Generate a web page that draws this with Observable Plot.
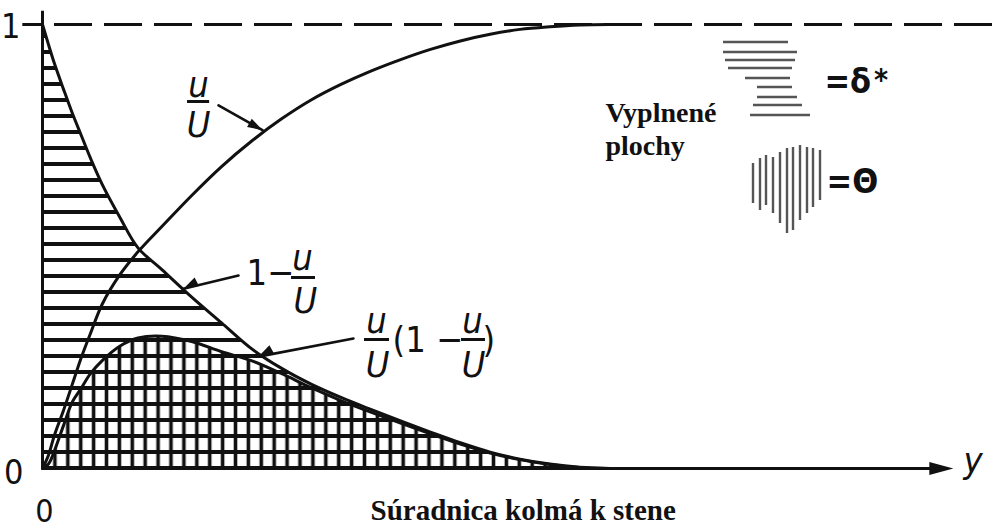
<!DOCTYPE html>
<html>
<head>
<meta charset="utf-8">
<script src="https://cdn.jsdelivr.net/npm/d3@7"></script>
<script src="https://cdn.jsdelivr.net/npm/@observablehq/plot@0.6"></script>
<style>
  html, body { margin: 0; padding: 0; background: #fff; }
  #chart { position: relative; width: 997px; height: 529px; }
  #chart svg { display: block; }
</style>
</head>
<body>
<div id="chart"></div>
<script>
// Boundary-layer profiles against the wall-normal coordinate (arbitrary units)
const distance        = [0, 0.1, 0.2, 0.35, 0.5, 0.65, 0.8, 1.0, 1.3, 1.6, 2.0, 2.5, 3.0, 3.5, 4.0, 4.5, 5.0, 5.5, 6.0, 6.5, 7.0, 7.5, 8.0, 8.5, 9.0, 9.5];
// u/U
const velocityRatio   = [0, 0.03, 0.075, 0.13, 0.19, 0.25, 0.303, 0.37, 0.437, 0.488, 0.545, 0.615, 0.68, 0.737, 0.787, 0.83, 0.865, 0.895, 0.921, 0.944, 0.963, 0.978, 0.989, 0.995, 0.999, 1.0];
// 1 − u/U  (displacement thickness δ*)
const velocityDeficit = [1.0, 0.955, 0.912, 0.855, 0.8, 0.75, 0.7, 0.64, 0.565, 0.497, 0.448, 0.386, 0.328, 0.27, 0.226, 0.19, 0.16, 0.133, 0.107, 0.082, 0.058, 0.037, 0.021, 0.01, 0.003, 0.0];
// u/U (1 − u/U)  (momentum thickness Θ)
const momentumDeficit = [0, 0.01, 0.04, 0.096, 0.15, 0.181, 0.213, 0.243, 0.276, 0.294, 0.298, 0.286, 0.263, 0.243, 0.214, 0.182, 0.153, 0.127, 0.102, 0.078, 0.055, 0.035, 0.02, 0.009, 0.002, 0.0];

const yTickLabels = ["0", "1"];
const xOriginLabel = "0";
const xAxisName = "y";
const xTitle = "Súradnica kolmá k stene";
const keyTitle = ["Vyplnené", "plochy"];

const profile = distance.map((d, i) => ({
  d,
  ratio: velocityRatio[i],
  deficit: velocityDeficit[i],
  momentum: momentumDeficit[i]
}));

const W = 997, H = 529;
const margins = {marginTop: 24, marginBottom: 61, marginLeft: 42, marginRight: 0};
const xDomain = [0, 16], yDomain = [0, 1];
const ink = "#111";
const mathFont = "'Liberation Sans Narrow', 'DejaVu Sans Condensed', 'Liberation Sans', sans-serif";
const serifFont = "'Liberation Serif', 'DejaVu Serif', serif";

// Curve labels written as stacked fractions
const centredLabels = [
  {x: 2.614, y: 0.8356, text: "u"},
  {x: 2.614, y: 0.7455, text: "U"},
  {x: 4.356, y: 0.446,  text: "u"},
  {x: 4.406, y: 0.3491, text: "U"},
  {x: 5.596, y: 0.3063, text: "u"},
  {x: 5.613, y: 0.205,  text: "U"},
  {x: 7.204, y: 0.3063, text: "u"},
  {x: 7.221, y: 0.205,  text: "U"}
];
const leadingLabels = [
  {x: 3.418, y: 0.4122, text: "1−"},
  {x: 5.864, y: 0.2613, text: "(1 −"},
  {x: 7.372, y: 0.2613, text: ")"}
];
const fractionBars = [
  {y: 0.8266, x1: 2.43,  x2: 2.80},
  {y: 0.4302, x1: 4.172, x2: 4.574},
  {y: 0.2905, x1: 5.395, x2: 5.814},
  {y: 0.2905, x1: 7.02,  x2: 7.422}
];
const pointers = [
  {x1: 2.949, y1: 0.8176, x2: 3.686, y2: 0.762, bend: 0},
  {x1: 3.284, y1: 0.4347, x2: 2.362, y2: 0.405, bend: -14},
  {x1: 5.21,  y1: 0.2928, x2: 3.62,  y2: 0.252, bend: -18}
];

// Screen scales, used to turn each pointer's end tangent into a rotation
const frame = Plot.plot({width: W, height: H, ...margins, x: {domain: xDomain}, y: {domain: yDomain}, marks: []});
const sx = frame.scale("x"), sy = frame.scale("y");
const tipAngle = (d) =>
  Math.atan2(sy.apply(d.y2) - sy.apply(d.y1), sx.apply(d.x2) - sx.apply(d.x1)) * 180 / Math.PI + d.bend;

// Filled arrowheads, tip at the anchor point, pointing along +x before rotation
const headShape = (len, half) => ({
  draw(context) {
    context.moveTo(0, 0);
    context.lineTo(-len, -half);
    context.lineTo(-len, half);
    context.closePath();
  }
});

const mathText = {fontFamily: mathFont, fontSize: 36, fontStyle: "italic", fill: ink, lineAnchor: "bottom"};
const uprightText = {fontFamily: mathFont, fill: ink, lineAnchor: "bottom"};

const chart = Plot.plot({
  width: W,
  height: H,
  ...margins,
  x: {domain: xDomain, axis: null},
  y: {domain: yDomain, axis: null},
  style: {background: "#fff", overflow: "visible"},
  marks: [
    // δ*: horizontal hatching under 1 − u/U
    Plot.areaY(profile, {x: "d", y: "deficit", fill: "url(#hatch-h)", curve: "catmull-rom"}),
    // Θ: vertical hatching under u/U (1 − u/U), crossing into a grid
    Plot.areaY(profile, {x: "d", y: "momentum", fill: "url(#hatch-v)", curve: "catmull-rom"}),

    // free-stream level
    Plot.ruleY([1], {x1: 0, x2: 16, stroke: ink, strokeWidth: 3, strokeDasharray: "38,12", strokeDashoffset: -12}),
    Plot.ruleY([1], {x1: -0.33, x2: 0, stroke: ink, strokeWidth: 3}),

    // axes
    Plot.ruleX([0], {y1: 0, y2: 1.03, stroke: ink, strokeWidth: 3}),
    Plot.ruleY([0], {x1: 0, x2: 15.0, stroke: ink, strokeWidth: 3}),
    Plot.dot([15.26], {x: d => d, y: 0, symbol: headShape(24, 6.5), fill: ink, stroke: "none"}),

    // profiles
    Plot.line(profile, {x: "d", y: "ratio", stroke: ink, strokeWidth: 3, curve: "catmull-rom"}),
    Plot.line(profile, {x: "d", y: "deficit", stroke: ink, strokeWidth: 3, curve: "catmull-rom"}),
    Plot.line(profile, {x: "d", y: "momentum", stroke: ink, strokeWidth: 3, curve: "catmull-rom"}),

    // curve labels and pointers
    Plot.text(centredLabels, {x: "x", y: "y", text: "text", textAnchor: "middle", ...mathText}),
    Plot.text(leadingLabels, {x: "x", y: "y", text: "text", textAnchor: "start", ...mathText, fontStyle: "normal"}),
    Plot.ruleY(fractionBars, {y: "y", x1: "x1", x2: "x2", stroke: ink, strokeWidth: 3}),
    Plot.arrow(pointers, {x1: "x1", y1: "y1", x2: "x2", y2: "y2", bend: d => d.bend, stroke: ink, strokeWidth: 2.6, headLength: 0}),
    Plot.dot(pointers, {x: "x2", y: "y2", rotate: tipAngle, symbol: headShape(15, 4.8), fill: ink, stroke: "none"}),

    // tick labels
    Plot.text([yTickLabels[1]], {x: 0, y: 1, text: d => d, textAnchor: "end", dx: -22, dy: 13, fontSize: 34, ...uprightText}),
    Plot.text([yTickLabels[0]], {x: 0, y: 0, text: d => d, textAnchor: "end", dx: -19, dy: 15, fontSize: 34, ...uprightText}),
    Plot.text([xOriginLabel], {x: 0, y: 0, text: d => d, textAnchor: "middle", dx: 2, dy: 53, fontSize: 32, ...uprightText}),
    Plot.text([xAxisName], {x: 15.43, y: 0, text: d => d, textAnchor: "start", dy: 4, ...mathText}),
    Plot.text([xTitle], {frameAnchor: "bottom-left", text: d => d, dx: 328, dy: 51, textAnchor: "start", lineAnchor: "bottom", fontFamily: serifFont, fontWeight: "bold", fontSize: 29, fill: ink}),

    // key
    Plot.text([keyTitle[0]], {x: 9.432, y: 0.7793, text: d => d, textAnchor: "start", lineAnchor: "bottom", fontFamily: serifFont, fontWeight: "bold", fontSize: 28, fill: ink}),
    Plot.text([keyTitle[1]], {x: 9.432, y: 0.705, text: d => d, textAnchor: "start", lineAnchor: "bottom", fontFamily: serifFont, fontWeight: "bold", fontSize: 28, fill: ink}),
    Plot.text(["=δ"], {x: 13.10, y: 0.8468, text: d => d, textAnchor: "start", fontWeight: "bold", fontSize: 34, ...uprightText}),
    Plot.text(["*"], {x: 13.93, y: 0.853, text: d => d, textAnchor: "start", fontWeight: "bold", fontSize: 30, ...uprightText}),
    Plot.text(["=Θ"], {x: 13.135, y: 0.6194, text: d => d, textAnchor: "start", fontWeight: "bold", fontSize: 34, ...uprightText})
  ]
});

// Hatch patterns in screen space: rows every 16 px resting on the baseline, columns every 12.9 px from the wall
const svg = d3.select(chart);
const defs = svg.insert("defs", ":first-child");
const ph = defs.append("pattern")
  .attr("id", "hatch-h").attr("patternUnits", "userSpaceOnUse")
  .attr("x", 0).attr("y", 12).attr("width", 40).attr("height", 16);
ph.append("line").attr("x1", 0).attr("x2", 40).attr("y1", 8).attr("y2", 8)
  .attr("stroke", ink).attr("stroke-width", 3.8);
const pv = defs.append("pattern")
  .attr("id", "hatch-v").attr("patternUnits", "userSpaceOnUse")
  .attr("x", 9.75).attr("y", 0).attr("width", 12.9).attr("height", 40);
pv.append("line").attr("x1", 6.45).attr("x2", 6.45).attr("y1", 0).attr("y2", 40)
  .attr("stroke", ink).attr("stroke-width", 3.6);

// Key swatches for the two shaded areas
const key = svg.append("g").attr("stroke", "#555").attr("stroke-width", 2.4).attr("fill", "none");
const keyRows = [[723, 788, 42], [723, 797, 52], [725, 795, 60], [728, 792, 68], [745, 790, 78],
                 [757, 792, 87], [757, 797, 97], [753, 802, 105], [750, 810, 115]];
key.selectAll("line.h").data(keyRows).join("line").attr("class", "h")
  .attr("x1", d => d[0]).attr("x2", d => d[1]).attr("y1", d => d[2]).attr("y2", d => d[2]);
const keyCols = [[753, 163, 203], [760, 158, 210], [766, 155, 205], [773, 157, 213], [780, 152, 223],
                 [787, 148, 233], [793, 147, 230], [800, 145, 220], [807, 147, 213], [813, 148, 207], [820, 150, 200]];
key.selectAll("line.v").data(keyCols).join("line").attr("class", "v")
  .attr("x1", d => d[0]).attr("x2", d => d[0]).attr("y1", d => d[1]).attr("y2", d => d[2]);

document.getElementById("chart").appendChild(chart);
</script>
</body>
</html>
